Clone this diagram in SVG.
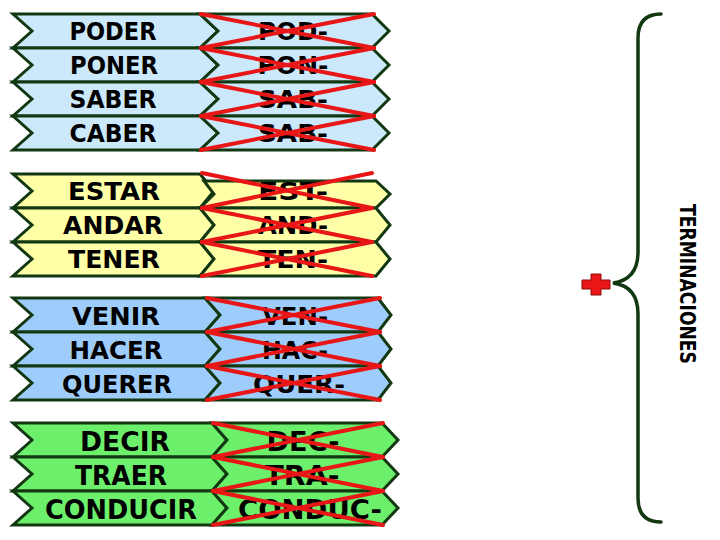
<svg xmlns="http://www.w3.org/2000/svg" width="720" height="540" viewBox="0 0 720 540">
<style>
.c{stroke:#123812;stroke-width:3;stroke-linejoin:miter}
.b1{fill:#cce9fb}.b2{fill:#ffffa8}.b3{fill:#9fcdfb}.b4{fill:#6cf06c}
.t{font-family:"DejaVu Sans","Liberation Sans",sans-serif;font-weight:bold;font-size:25px;fill:#000;text-anchor:middle}
.t4{font-size:27px}
.x{stroke:#e81616;stroke-width:4;stroke-linecap:round;fill:none}
.br{fill:none;stroke:#123812;stroke-width:3.5;stroke-linecap:round}
.lab{font-family:"DejaVu Sans","Liberation Sans",sans-serif;font-weight:bold;font-size:21px;fill:#000;text-anchor:middle}
</style>
<rect width="720" height="540" fill="#fff"/>
<!-- Block 1 -->
<g id="poder"><polygon class="c b1" points="13,14 200,14 218,31 200,48 13,48 32,31"/><text class="t" x="113" y="40" textLength="87" lengthAdjust="spacingAndGlyphs">PODER</text></g>
<g id="pod"><polygon class="c b1" points="200,14 372,14 389,31 372,48 200,48 218,31"/><text class="t" x="293" y="40" textLength="70" lengthAdjust="spacingAndGlyphs">POD-</text></g>
<g id="poner"><polygon class="c b1" points="13,48 200,48 218,65 200,82 13,82 32,65"/><text class="t" x="114" y="74" textLength="88" lengthAdjust="spacingAndGlyphs">PONER</text></g>
<g id="pon"><polygon class="c b1" points="200,48 372,48 389,65 372,82 200,82 218,65"/><text class="t" x="293" y="74" textLength="71" lengthAdjust="spacingAndGlyphs">PON-</text></g>
<g id="saber"><polygon class="c b1" points="13,82 200,82 218,99 200,116 13,116 32,99"/><text class="t" x="113" y="108" textLength="87" lengthAdjust="spacingAndGlyphs">SABER</text></g>
<g id="sab1"><polygon class="c b1" points="200,82 372,82 389,99 372,116 200,116 218,99"/><text class="t" x="293" y="108" textLength="70" lengthAdjust="spacingAndGlyphs">SAB-</text></g>
<g id="caber"><polygon class="c b1" points="13,116 200,116 218,133 200,150 13,150 32,133"/><text class="t" x="113" y="142" textLength="87" lengthAdjust="spacingAndGlyphs">CABER</text></g>
<g id="sab2"><polygon class="c b1" points="200,116 372,116 389,133 372,150 200,150 218,133"/><text class="t" x="293" y="142" textLength="70" lengthAdjust="spacingAndGlyphs">SAB-</text></g>
<!-- Block 2 -->
<g id="estar"><polygon class="c b2" points="13,174 200,174 214,191 200,208 13,208 32,191"/><text class="t" x="114" y="200" textLength="92" lengthAdjust="spacingAndGlyphs">ESTAR</text></g>
<g id="est"><polygon class="c b2" points="204,181 376,181 390,194 376,208 200,208 214,194"/><text class="t" x="293" y="200" textLength="70" lengthAdjust="spacingAndGlyphs">EST-</text></g>
<g id="andar"><polygon class="c b2" points="13,208 200,208 214,225 200,242 13,242 32,225"/><text class="t" x="113" y="234" textLength="100" lengthAdjust="spacingAndGlyphs">ANDAR</text></g>
<g id="and"><polygon class="c b2" points="200,208 376,208 390,225 376,242 200,242 214,225"/><text class="t" x="293" y="234" textLength="70" lengthAdjust="spacingAndGlyphs">AND-</text></g>
<g id="tener"><polygon class="c b2" points="13,242 200,242 214,259 200,276 13,276 32,259"/><text class="t" x="114" y="268" textLength="92" lengthAdjust="spacingAndGlyphs">TENER</text></g>
<g id="ten"><polygon class="c b2" points="200,242 376,242 390,259 376,276 200,276 214,259"/><text class="t" x="293" y="268" textLength="70" lengthAdjust="spacingAndGlyphs">TEN-</text></g>
<!-- Block 3 -->
<g id="venir"><polygon class="c b3" points="13,298 205,298 220,315 205,332 13,332 32,315"/><text class="t" x="116" y="325" textLength="88" lengthAdjust="spacingAndGlyphs">VENIR</text></g>
<g id="ven"><polygon class="c b3" points="205,298 378,298 391,315 378,332 205,332 220,315"/><text class="t" x="295" y="325" textLength="66" lengthAdjust="spacingAndGlyphs">VEN-</text></g>
<g id="hacer"><polygon class="c b3" points="13,332 205,332 220,349 205,366 13,366 32,349"/><text class="t" x="116" y="359" textLength="93" lengthAdjust="spacingAndGlyphs">HACER</text></g>
<g id="hac"><polygon class="c b3" points="205,332 378,332 391,349 378,366 205,366 220,349"/><text class="t" x="295" y="359" textLength="66" lengthAdjust="spacingAndGlyphs">HAC-</text></g>
<g id="querer"><polygon class="c b3" points="13,366 205,366 220,383 205,400 13,400 32,383"/><text class="t" x="117" y="393" textLength="110" lengthAdjust="spacingAndGlyphs">QUERER</text></g>
<g id="quer"><polygon class="c b3" points="205,366 378,366 391,383 378,400 205,400 220,383"/><text class="t" x="299" y="393" textLength="92" lengthAdjust="spacingAndGlyphs">QUER-</text></g>
<!-- Block 4 -->
<g id="decir"><polygon class="c b4" points="13,423 212,423 227,440 212,457 13,457 32,440"/><text class="t t4" x="125" y="451" textLength="90" lengthAdjust="spacingAndGlyphs">DECIR</text></g>
<g id="dec"><polygon class="c b4" points="212,423 382,423 398,440 382,457 212,457 227,440"/><text class="t t4" x="303" y="451" textLength="73" lengthAdjust="spacingAndGlyphs">DEC-</text></g>
<g id="traer"><polygon class="c b4" points="13,457 212,457 227,474 212,491 13,491 32,474"/><text class="t t4" x="121" y="485" textLength="92" lengthAdjust="spacingAndGlyphs">TRAER</text></g>
<g id="tra"><polygon class="c b4" points="212,457 382,457 398,474 382,491 212,491 227,474"/><text class="t t4" x="302" y="485" textLength="75" lengthAdjust="spacingAndGlyphs">TRA-</text></g>
<g id="conducir"><polygon class="c b4" points="13,491 212,491 227,508 212,525 13,525 32,508"/><text class="t t4" x="121" y="519" textLength="152" lengthAdjust="spacingAndGlyphs">CONDUCIR</text></g>
<g id="conduc"><polygon class="c b4" points="212,491 382,491 398,508 382,525 212,525 227,508"/><text class="t t4" x="310" y="519" textLength="144" lengthAdjust="spacingAndGlyphs">CONDUC-</text></g>
<!-- Strike-throughs and brace -->
<g id="connectors">
<g id="strikes" class="x">
<path d="M201,14 L374,48 M374,14 L201,48"/>
<path d="M201,48 L374,82 M374,48 L201,82"/>
<path d="M201,82 L374,116 M374,82 L201,116"/>
<path d="M201,116 L374,150 M374,116 L201,150"/>
<path d="M202,173 L372,208 M372,173 L202,208"/>
<path d="M202,208 L372,242 M372,208 L202,242"/>
<path d="M202,242 L372,276 M372,242 L202,276"/>
<path d="M207,298 L380,332 M380,298 L207,332"/>
<path d="M207,332 L380,366 M380,332 L207,366"/>
<path d="M207,366 L380,400 M380,366 L207,400"/>
<path d="M213,423 L383,457 M383,423 L213,457"/>
<path d="M213,457 L383,491 M383,457 L213,491"/>
<path d="M213,491 L383,525 M383,491 L213,525"/>
</g>
<path id="brace" class="br" d="M661,14 C646,14 638,22 638,38 L638,252 C638,272 628,281 613,283 C628,285 638,294 638,314 L638,498 C638,514 646,522 661,522"/>
</g>
<g id="plus"><path d="M591,274 L601,274 L601,280 L610,280 L610,289 L601,289 L601,295 L591,295 L591,289 L582,289 L582,280 L591,280 Z" fill="#e81616" stroke="#8a0a0a" stroke-width="1" stroke-linejoin="round"/></g>
<g id="terminaciones"><text class="lab" transform="translate(680,284) rotate(90)" x="0" y="0" textLength="160" lengthAdjust="spacingAndGlyphs">TERMINACIONES</text></g>
</svg>
